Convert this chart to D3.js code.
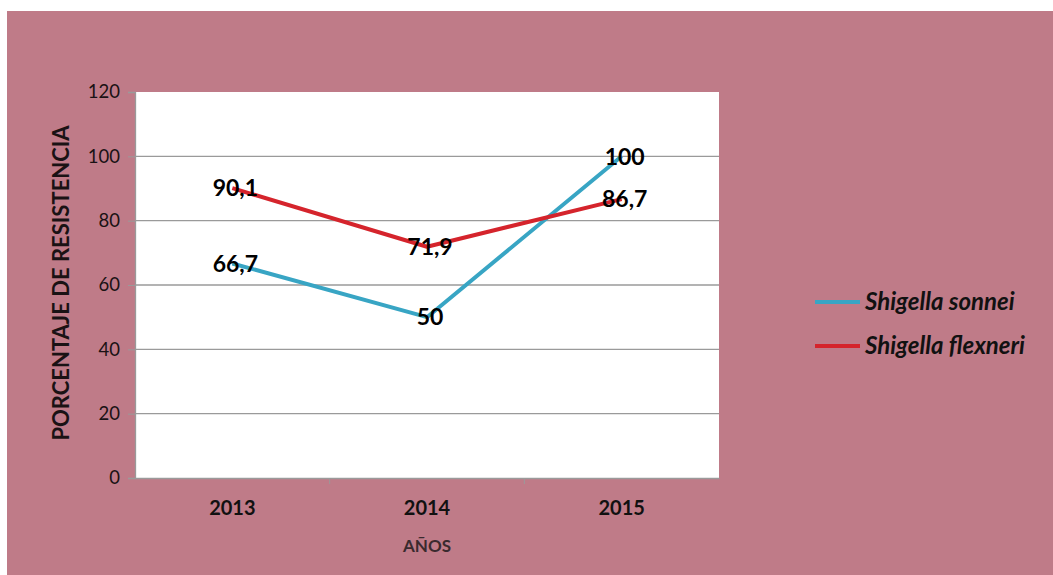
<!DOCTYPE html>
<html>
<head>
<meta charset="utf-8">
<script src="https://cdn.jsdelivr.net/npm/d3@7"></script>
<style>
  body { margin: 0; background: #fff; }
  svg text { font-family: Lato, "Open Sans", sans-serif; }
</style>
</head>
<body>
<div id="chart"></div>
<script>
// Data
var years = ['2013', '2014', '2015'];
var sonnei = [66.7, 50, 100];
var flexneri = [90.1, 71.9, 86.7];
var seriesNames = ['Shigella sonnei', 'Shigella flexneri'];
var seriesColors = ['#38a5c4', '#d5242c'];
var yTicks = [0, 20, 40, 60, 80, 100, 120];

var width = 1053, height = 575;

// Plot area
var plot = { left: 135, right: 719, top: 92, bottom: 478 };

var svg = d3.select('#chart').append('svg')
  .attr('width', width)
  .attr('height', height);

// Pink background
svg.append('rect')
  .attr('x', 7).attr('y', 11)
  .attr('width', width - 7).attr('height', height - 11)
  .attr('fill', '#bf7b88');

// Scales
var x = d3.scaleBand()
  .domain(years)
  .range([plot.left, plot.right]);

var y = d3.scaleLinear()
  .domain([0, 120])
  .range([plot.bottom, plot.top]);

// Plot background
svg.append('rect')
  .attr('x', plot.left).attr('y', plot.top)
  .attr('width', plot.right - plot.left)
  .attr('height', plot.bottom - plot.top)
  .attr('fill', '#ffffff');

// Gridlines
svg.append('g')
  .selectAll('line')
  .data(yTicks.filter(function(d) { return d > 0 && d < 120; }))
  .enter().append('line')
    .attr('x1', plot.left).attr('x2', plot.right)
    .attr('y1', function(d) { return y(d); })
    .attr('y2', function(d) { return y(d); })
    .attr('stroke', '#9a9a9a')
    .attr('stroke-width', 1.3);

// Y axis
var yAxis = svg.append('g')
  .attr('transform', 'translate(' + plot.left + ',0)')
  .call(d3.axisLeft(y).tickValues(yTicks).tickSize(7).tickPadding(8));
yAxis.select('.domain').attr('stroke', '#9a9a9a').attr('stroke-width', 1.3);
yAxis.selectAll('.tick line').attr('stroke', '#9a9a9a');
yAxis.selectAll('.tick text')
  .attr('fill', '#1a1214')
  .style('font-size', '18.5px');

// X axis
var xAxis = svg.append('g')
  .attr('transform', 'translate(0,' + plot.bottom + ')')
  .call(d3.axisBottom(x).tickSize(0).tickPadding(23));
xAxis.select('.domain').attr('stroke', '#9a9a9a').attr('stroke-width', 1.3);
xAxis.selectAll('.tick text')
  .attr('fill', '#111')
  .style('font-size', '20px')
  .style('font-weight', 'bold');

// Category boundary ticks
svg.append('g')
  .selectAll('line')
  .data(years.slice(1))
  .enter().append('line')
    .attr('x1', function(d) { return x(d); })
    .attr('x2', function(d) { return x(d); })
    .attr('y1', plot.bottom)
    .attr('y2', plot.bottom + 6)
    .attr('stroke', '#9a9a9a');

// Axis titles
svg.append('text')
  .attr('transform', 'translate(69,' + ((plot.top + plot.bottom) / 2 - 2) + ') rotate(-90)')
  .attr('text-anchor', 'middle')
  .attr('fill', '#1a1214')
  .style('font-size', '22px')
  .style('font-weight', 'bold')
  .text('PORCENTAJE DE RESISTENCIA');

svg.append('text')
  .attr('x', x('2014') + x.bandwidth() / 2)
  .attr('y', 552)
  .attr('text-anchor', 'middle')
  .attr('fill', '#3a2a2e')
  .style('font-size', '17px')
  .style('font-weight', 'bold')
  .text('AÑOS');

// Lines
var line = d3.line()
  .x(function(d, i) { return x(years[i]) + x.bandwidth() / 2; })
  .y(function(d) { return y(d); });

var allSeries = [sonnei, flexneri];

svg.append('g')
  .selectAll('path')
  .data(allSeries)
  .enter().append('path')
    .attr('d', line)
    .attr('fill', 'none')
    .attr('stroke', function(d, i) { return seriesColors[i]; })
    .attr('stroke-width', 4)
    .attr('stroke-linejoin', 'round');

// Data labels
var fmt = function(v) { return String(v).replace('.', ','); };

allSeries.forEach(function(values) {
  svg.append('g')
    .selectAll('text')
    .data(values)
    .enter().append('text')
      .attr('x', function(d, i) { return x(years[i]) + x.bandwidth() / 2 + 3; })
      .attr('y', function(d) { return y(d); })
      .attr('dy', '0.36em')
      .attr('text-anchor', 'middle')
      .attr('fill', '#000')
      .style('font-size', '23px')
      .style('font-weight', 'bold')
      .text(fmt);
});

// Legend
var legend = svg.append('g')
  .attr('transform', 'translate(815,302)');

var items = legend.selectAll('g')
  .data(seriesNames)
  .enter().append('g')
    .attr('transform', function(d, i) { return 'translate(0,' + (i * 44) + ')'; });

items.append('line')
  .attr('x1', 0).attr('x2', 45)
  .attr('stroke', function(d, i) { return seriesColors[i]; })
  .attr('stroke-width', 4);

items.append('text')
  .attr('x', 50)
  .attr('dy', '0.35em')
  .attr('fill', '#111')
  .style('font-size', '24px')
  .style('font-weight', 'bold')
  .style('font-style', 'italic')
  .text(function(d) { return d; });
</script>
</body>
</html>
